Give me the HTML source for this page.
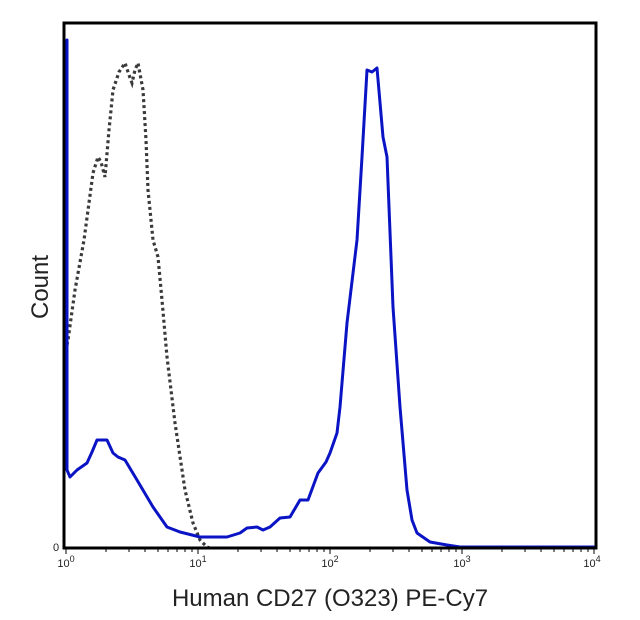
<!DOCTYPE html>
<html><head><meta charset="utf-8"><style>
html,body{margin:0;padding:0;background:#fff;}
svg{display:block;}
text{font-family:"Liberation Sans",Arial,sans-serif;}
</style></head><body>
<svg width="640" height="620" viewBox="0 0 640 620" xmlns="http://www.w3.org/2000/svg">
<rect x="0" y="0" width="640" height="620" fill="#fff"/>
<polyline fill="none" stroke="#3a3a3a" stroke-width="3.2" stroke-dasharray="3,3" points="67,345 68,340 75,290 84,240 93,173 98,157 101,162 105,177 109,130 113,90 119,72 125,63 129,75 132,83 135,70 138,63 143,90 146,140 148,190 153,240 158,257 162,300 167,357 175,423 185,490 193,523 200,540 207,547 212,549"/>
<polyline fill="none" stroke="#0a14c4" stroke-width="3" stroke-linejoin="round" stroke-linecap="round" points="67,40 67,470 70,477 77,470 87,463 92,452 97,440 107,440 113,453 118,457 125,460 137,480 153,507 167,527 180,532 200,537 227,537 240,533 247,528 257,527 263,530 270,527 280,518 290,517 300,500 308,500 318,473 326,462 330,453 337,433 340,407 347,323 357,240 362,157 367,70 372,72 377,68 383,137 387,157 393,307 400,407 407,490 412,520 417,533 430,542 447,545 460,547 596,547"/>
<rect x="64" y="23" width="532" height="525" fill="none" stroke="#000" stroke-width="3"/>
<g stroke="#000" stroke-width="1">
<line x1="66" y1="548" x2="66" y2="554"/><line x1="198" y1="548" x2="198" y2="554"/><line x1="330" y1="548" x2="330" y2="554"/><line x1="462" y1="548" x2="462" y2="554"/><line x1="594" y1="548" x2="594" y2="554"/>
</g>
<g stroke="#000" stroke-width="1">
<line x1="106" y1="548" x2="106" y2="552"/><line x1="129" y1="548" x2="129" y2="552"/><line x1="145" y1="548" x2="145" y2="552"/><line x1="158" y1="548" x2="158" y2="552"/><line x1="168" y1="548" x2="168" y2="552"/><line x1="177" y1="548" x2="177" y2="552"/><line x1="185" y1="548" x2="185" y2="552"/><line x1="192" y1="548" x2="192" y2="552"/>
<line x1="238" y1="548" x2="238" y2="552"/><line x1="261" y1="548" x2="261" y2="552"/><line x1="277" y1="548" x2="277" y2="552"/><line x1="290" y1="548" x2="290" y2="552"/><line x1="300" y1="548" x2="300" y2="552"/><line x1="309" y1="548" x2="309" y2="552"/><line x1="317" y1="548" x2="317" y2="552"/><line x1="324" y1="548" x2="324" y2="552"/>
<line x1="370" y1="548" x2="370" y2="552"/><line x1="393" y1="548" x2="393" y2="552"/><line x1="409" y1="548" x2="409" y2="552"/><line x1="422" y1="548" x2="422" y2="552"/><line x1="432" y1="548" x2="432" y2="552"/><line x1="441" y1="548" x2="441" y2="552"/><line x1="449" y1="548" x2="449" y2="552"/><line x1="456" y1="548" x2="456" y2="552"/>
<line x1="502" y1="548" x2="502" y2="552"/><line x1="525" y1="548" x2="525" y2="552"/><line x1="541" y1="548" x2="541" y2="552"/><line x1="554" y1="548" x2="554" y2="552"/><line x1="564" y1="548" x2="564" y2="552"/><line x1="573" y1="548" x2="573" y2="552"/><line x1="581" y1="548" x2="581" y2="552"/><line x1="588" y1="548" x2="588" y2="552"/>
</g>
<g font-size="11" fill="#222">
<text x="53" y="551">0</text>
<text x="66" y="567" text-anchor="middle">10<tspan font-size="9" dy="-5">0</tspan></text>
<text x="198" y="567" text-anchor="middle">10<tspan font-size="9" dy="-5">1</tspan></text>
<text x="330" y="567" text-anchor="middle">10<tspan font-size="9" dy="-5">2</tspan></text>
<text x="462" y="567" text-anchor="middle">10<tspan font-size="9" dy="-5">3</tspan></text>
<text x="592" y="567" text-anchor="middle">10<tspan font-size="9" dy="-5">4</tspan></text>
</g>
<text x="330" y="606" font-size="24" fill="#222" text-anchor="middle">Human CD27 (O323) PE-Cy7</text>
<text transform="translate(48,287) rotate(-90)" font-size="24" fill="#222" text-anchor="middle">Count</text>
</svg>
</body></html>
